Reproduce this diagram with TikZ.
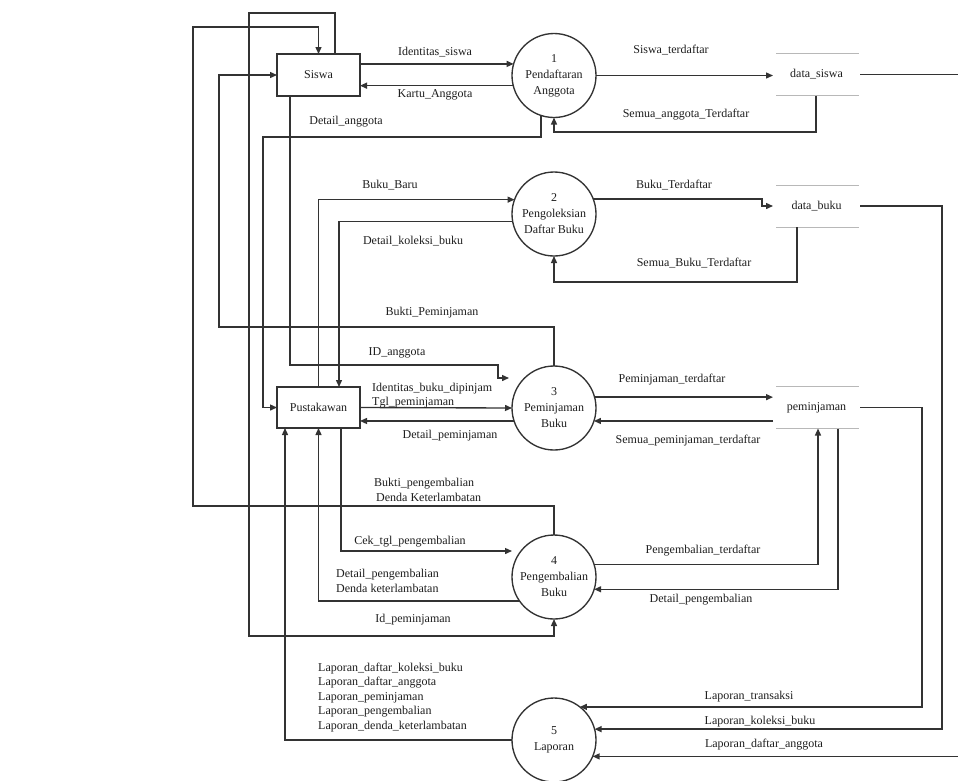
\documentclass[tikz,border=0pt]{standalone}
\usepackage{fontspec}
\setmainfont{Liberation Serif}
\usetikzlibrary{arrows.meta}
\definecolor{linec}{HTML}{333333}
\definecolor{storec}{HTML}{B8B8B8}
\definecolor{txt}{HTML}{1E1E1E}
\begin{document}
\begin{tikzpicture}[x=1pt,y=-1pt,
  wire/.style={draw=linec,line width=1.35pt},
  flow/.style={wire,-{Triangle[length=7pt,width=6pt]}},
  ext/.style={draw=linec,line width=1.35pt,minimum width=83pt,minimum height=42pt,
    inner sep=0pt,outer sep=0pt,text=txt,font=\fontsize{12}{14.5}\selectfont},
  proc/.style={circle,draw=linec,line width=1.35pt,minimum size=84pt,inner sep=0pt,
    outer sep=0pt,align=center,text=txt,font=\fontsize{12}{16}\selectfont},
  store/.style={minimum width=87pt,minimum height=42pt,inner sep=0pt,outer sep=0pt,
    text=txt,font=\fontsize{12}{14.5}\selectfont},
  storeline/.style={draw=storec,line width=1pt},
  lab/.style={inner sep=0pt,text=txt,font=\fontsize{12}{14.5}\selectfont},
  labl/.style={lab,anchor=west,align=left}]
\useasboundingbox (0,0) rectangle (958,780);
\fill[white] (0,0) rectangle (958,780);

% external entities
\node[ext] (siswa) at (318.5,75) {Siswa};
\node[ext,minimum height=41pt] (pust) at (318.5,407.5) {Pustakawan};

% processes
\node[proc] (p1) at (554,75.5) {1\\Pendaftaran\\Anggota};
\node[proc] (p2) at (554,214) {2\\Pengoleksian\\Daftar Buku};
\node[proc] (p3) at (554,408) {3\\Peminjaman\\Buku};
\node[proc] (p4) at (554,577) {4\\Pengembalian\\Buku};
\node[proc] (p5) at (554,740) {5\\Laporan};

% data stores
\node[store] (ds) at (816.5,74.5) {data\_siswa};
\node[store] (db) at (816.5,206) {data\_buku};
\node[store] (dp) at (816.5,407.5) {peminjaman};
\foreach \s in {ds,db,dp}{
  \draw[storeline] ([xshift=3pt]\s.north west) -- ([xshift=-1pt]\s.north east);
  \draw[storeline] ([xshift=3pt]\s.south west) -- ([xshift=-1pt]\s.south east);
}

% process 1 flows
\draw[flow] (p1.164 -| siswa.east) -- (p1.164);
\draw[flow] (p1.194) -- (p1.194 -| siswa.east);
\draw[flow] (p1.east) -- (p1.east -| ds.west);
\draw[flow] (ds.south -| 816,0) |- (p1.south |- 0,132) -- (p1.south);
\draw[flow] (p1.252) |- (263,137) |- (pust.west);
\draw[flow] (ds.east) -- (ds.east -| 965,0) |- (p5.337);

% process 2 flows
\draw[flow] (pust.north) |- (p2.160);
\draw[flow] (p2.190) -| (pust.north -| 339,0);
\draw[flow] (p2.21) -| (db.west -| 762,0) -- (db.west);
\draw[flow] (db.south -| 797,0) |- (p2.south |- 0,282) -- (p2.south);
\draw[flow] (db.east) -- (db.east -| 942,0) |- (p5.15);

% process 3 flows
\draw[flow] (p3.north) |- (219,327) |- (siswa.west);
\draw[flow,shorten >=3pt] (siswa.south -| 290,0) |- (498,365) -- (498,378) -- (p3.west |- 0,378);
\draw[flow] (pust.east) -- (p3.west);
\draw[flow] (p3.198) -- (p3.198 -| pust.east);
\draw[flow] (p3.15) -- (p3.15 -| dp.west);
\draw[flow] (p3.342 -| dp.west) -- (p3.342);
\draw[flow] (dp.east) -- (dp.east -| 922,0) |- (p5.52);

% process 4 flows
\draw[flow] (p4.north) |- (193,506) -- (193,27) -| (siswa.north);
\draw[flow] (siswa.north -| 335,0) -- (335,13) -| (249,636) -| (p4.south);
\draw[flow] (pust.south -| 341,0) |- (p4.west |- 0,551);
\draw[flow] (p4.215) -| (pust.south);
\draw[flow] (p4.17) -| (dp.south -| 818,0);
\draw[flow] (dp.south -| 838,0) |- (p4.343);

% process 5 flows
\draw[flow] (p5.west) -| (pust.south -| 285,0);

% flow labels
\node[lab] (l1) at (435,52) {Identitas\_siswa};
\node[lab] (l2) at (435,95) {Kartu\_Anggota};
\node[lab] (l3) at (346,122) {Detail\_anggota};
\node[lab] (l4) at (671,50) {Siswa\_terdaftar};
\node[lab] (l5) at (686,115) {Semua\_anggota\_Terdaftar};
\node[lab] (l6) at (390,185) {Buku\_Baru};
\node[lab] (l7) at (413,241) {Detail\_koleksi\_buku};
\node[lab] (l8) at (674,185) {Buku\_Terdaftar};
\node[lab] (l9) at (694,263) {Semua\_Buku\_Terdaftar};
\node[lab] (l10) at (432,313) {Bukti\_Peminjaman};
\node[lab] (l11) at (397,353) {ID\_anggota};
\node[labl] (l12) at (372,395.5) {Identitas\_buku\_dipinjam\\Tgl\_peminjaman};
\node[lab] (l13) at (450,436) {Detail\_peminjaman};
\node[labl] (l14) at (374,490) {Bukti\_pengembalian\\\hspace*{2pt}Denda Keterlambatan};
\node[lab] (l15) at (410,542) {Cek\_tgl\_pengembalian};
\node[lab] (l16) at (672,380) {Peminjaman\_terdaftar};
\node[lab] (l17) at (688,441) {Semua\_peminjaman\_terdaftar};
\node[lab] (l18) at (703,551) {Pengembalian\_terdaftar};
\node[lab] (l19) at (701,600) {Detail\_pengembalian};
\node[labl] (l20) at (336,581) {Detail\_pengembalian\\Denda keterlambatan};
\node[lab] (l21) at (413,620) {Id\_peminjaman};
\node[labl] (l22) at (318,697.5) {Laporan\_daftar\_koleksi\_buku\\Laporan\_daftar\_anggota\\Laporan\_peminjaman\\Laporan\_pengembalian\\Laporan\_denda\_keterlambatan};
\node[lab] (l23) at (749,697) {Laporan\_transaksi};
\node[lab] (l24) at (760,722) {Laporan\_koleksi\_buku};
\node[lab] (l25) at (764,745) {Laporan\_daftar\_anggota};
\end{tikzpicture}
\end{document}
